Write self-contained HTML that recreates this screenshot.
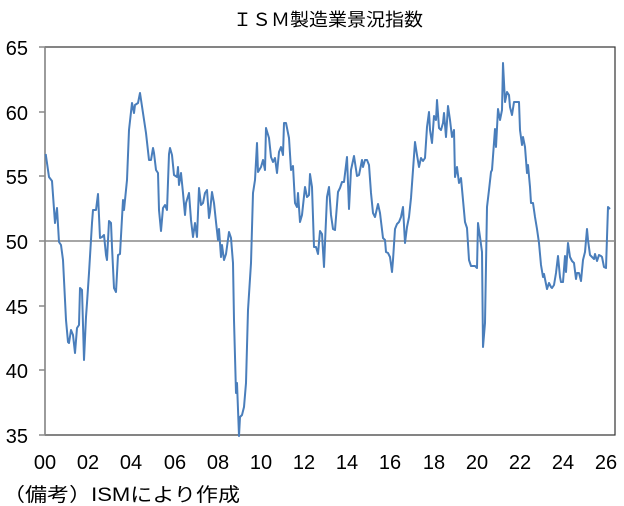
<!DOCTYPE html>
<html><head><meta charset="utf-8"><style>
body{margin:0;background:#fff;width:624px;height:506px;overflow:hidden;font-family:"Liberation Sans","Noto Sans CJK JP",sans-serif}
</style></head><body>
<svg width="624" height="506" xmlns="http://www.w3.org/2000/svg" style="position:absolute;left:0;top:0">
<text x="233" y="26" textLength="190" lengthAdjust="spacingAndGlyphs" font-size="18" font-family="Liberation Sans,Noto Sans CJK JP,sans-serif">ＩＳＭ製造業景況指数</text>
<rect x="45" y="47" width="570" height="388" fill="none" stroke="#333" stroke-width="1.2"/>
<line x1="45" y1="47" x2="45" y2="435" stroke="#888" stroke-width="1.5"/>
<g stroke="#888" stroke-width="1.5">
<line x1="39" y1="47" x2="45" y2="47"/><line x1="39" y1="112" x2="45" y2="112"/><line x1="39" y1="176" x2="45" y2="176"/><line x1="39" y1="241" x2="45" y2="241"/><line x1="39" y1="306" x2="45" y2="306"/><line x1="39" y1="370" x2="45" y2="370"/><line x1="39" y1="435" x2="45" y2="435"/>
</g>
<line x1="45" y1="241" x2="615" y2="241" stroke="#888" stroke-width="1.5"/>
<g font-size="20" font-family="Liberation Sans,sans-serif" text-anchor="end">
<text x="28" y="55">65</text><text x="28" y="120">60</text><text x="28" y="184">55</text><text x="28" y="249">50</text><text x="28" y="314">45</text><text x="28" y="378">40</text><text x="28" y="443">35</text>
</g>
<g font-size="20" font-family="Liberation Sans,sans-serif" text-anchor="middle">
<text x="45" y="469">00</text><text x="88" y="469">02</text><text x="131" y="469">04</text><text x="175" y="469">06</text><text x="218" y="469">08</text><text x="261" y="469">10</text><text x="304" y="469">12</text><text x="347" y="469">14</text><text x="390" y="469">16</text><text x="434" y="469">18</text><text x="477" y="469">20</text><text x="520" y="469">22</text><text x="563" y="469">24</text><text x="606" y="469">26</text>
</g>
<polyline fill="none" stroke="#4a7ebb" stroke-width="2" stroke-linejoin="round" points="45.7,154 49,177 52,181 55,223 57,208 59,242 61,245 63,260 66,320 68,342 69,343 71,330 73,335 75,353 77,328 79,325 80,288 82,290 84,360 86,317 87,303 89,273 92,223 93,210 96,210 98,194 100,238 102,237 104,235 106,255 107,260 109,221 111,223 112,247 114,288 116,292 118,255 120,254 123,200 124,210 127,180 129,130 132,103 134,113 135,105 138,103 140,93 143,113 146,133 149,160 151,160 153,148 154,153 156,170 158,173 159,210 161,231 163,208 165,205 167,210 169,154 170,148 172,155 174,175 177,177 178,167 179,185 181,173 183,193 185,215 186,203 189,193 191,220 193,237 195,223 197,237 199,188 201,205 203,203 205,193 207,190 209,218 210,212 212,192 214,203 216,222 218,240 219,229 221,257 222,245 224,260 226,254 229,232 231,238 233,263 234,320 236,393 237,383 239,436 240,417 242,415 244,407 246,383 248,310 251,263 253,193 255,180 257,143 258,172 261,167 263,160 265,170 266,128 269,138 271,157 273,162 275,158 277,173 279,152 281,147 283,155 284,123 286,123 289,138 291,170 293,166 295,203 297,207 298,193 300,222 302,215 305,187 307,197 309,195 310,174 312,187 314,247 316,247 318,254 320,231 322,234 324,267 325,243 327,197 329,187 331,215 333,229 335,230 338,192 340,188 342,182 344,182 347,157 349,209 351,170 354,156 357,176 359,175 362,160 363,167 365,160 367,160 369,165 371,193 373,213 375,217 378,204 380,213 383,238 385,240 386,252 388,253 390,257 392,272 393,260 395,229 397,224 399,222 401,217 403,207 405,243 407,227 409,217 411,198 413,170 415,142 417,155 419,167 421,158 423,161 425,158 427,127 429,112 430,130 432,143 434,116 436,120 437,100 439,128 441,130 443,123 444,113 446,137 448,106 450,120 452,137 454,130 455,177 457,167 459,183 461,178 463,200 465,222 467,228 469,260 471,266 475,266 477,268 478,223 480,237 482,252 483,347 485,323 487,207 489,190 491,172 492,170 495,129 496,147 498,109 500,120 502,110 503,63 505,102 507,92 509,95 510,107 512,115 514,102 517,102 519,102 520,130 522,145 523,137 525,147 527,173 528,165 530,187 531,203 533,203 535,217 537,229 539,243 541,265 543,277 544,274 547,289 549,283 551,287 552,288 554,285 556,273 558,256 560,277 561,282 563,282 565,256 566,272 568,243 570,257 572,261 574,263 576,279 577,273 579,273 581,281 583,260 585,252 587,229 588,240 590,255 592,257 594,259 595,254 597,261 599,255 601,256 602,257 604,267 606,268 608,207 610,209"/>
<text x="3" y="501" textLength="237" lengthAdjust="spacingAndGlyphs" font-size="19" font-family="Liberation Sans,Noto Sans CJK JP,sans-serif">（備考）ISMにより作成</text>
</svg>
</body></html>
